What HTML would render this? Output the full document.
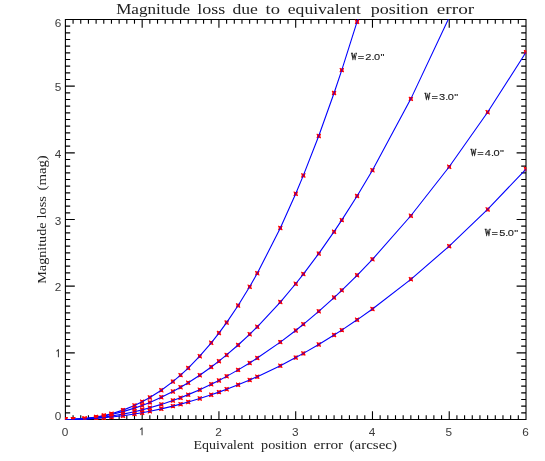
<!DOCTYPE html>
<html><head><meta charset="utf-8"><title>Magnitude loss</title>
<style>html,body{margin:0;padding:0;background:#fff;}svg{display:block;will-change:transform;}</style></head>
<body>
<svg width="545" height="461" viewBox="0 0 545 461">
<rect width="545" height="461" fill="#fff"/>
<path d="M65.4 19.5H526.0V419.5H65.4ZM65.40 419.5v-8.2M65.40 19.5v8.2M65.4 419.50h9.4M526.0 419.50h-9.4M73.08 419.5v-4.2M73.08 19.5v4.2M65.4 412.83h4.8M526.0 412.83h-4.8M80.75 419.5v-4.2M80.75 19.5v4.2M65.4 406.17h4.8M526.0 406.17h-4.8M88.43 419.5v-4.2M88.43 19.5v4.2M65.4 399.50h4.8M526.0 399.50h-4.8M96.11 419.5v-4.2M96.11 19.5v4.2M65.4 392.83h4.8M526.0 392.83h-4.8M103.78 419.5v-4.2M103.78 19.5v4.2M65.4 386.17h4.8M526.0 386.17h-4.8M111.46 419.5v-4.2M111.46 19.5v4.2M65.4 379.50h4.8M526.0 379.50h-4.8M119.14 419.5v-4.2M119.14 19.5v4.2M65.4 372.83h4.8M526.0 372.83h-4.8M126.81 419.5v-4.2M126.81 19.5v4.2M65.4 366.17h4.8M526.0 366.17h-4.8M134.49 419.5v-4.2M134.49 19.5v4.2M65.4 359.50h4.8M526.0 359.50h-4.8M142.17 419.5v-8.2M142.17 19.5v8.2M65.4 352.83h9.4M526.0 352.83h-9.4M149.84 419.5v-4.2M149.84 19.5v4.2M65.4 346.17h4.8M526.0 346.17h-4.8M157.52 419.5v-4.2M157.52 19.5v4.2M65.4 339.50h4.8M526.0 339.50h-4.8M165.20 419.5v-4.2M165.20 19.5v4.2M65.4 332.83h4.8M526.0 332.83h-4.8M172.87 419.5v-4.2M172.87 19.5v4.2M65.4 326.17h4.8M526.0 326.17h-4.8M180.55 419.5v-4.2M180.55 19.5v4.2M65.4 319.50h4.8M526.0 319.50h-4.8M188.23 419.5v-4.2M188.23 19.5v4.2M65.4 312.83h4.8M526.0 312.83h-4.8M195.90 419.5v-4.2M195.90 19.5v4.2M65.4 306.17h4.8M526.0 306.17h-4.8M203.58 419.5v-4.2M203.58 19.5v4.2M65.4 299.50h4.8M526.0 299.50h-4.8M211.26 419.5v-4.2M211.26 19.5v4.2M65.4 292.83h4.8M526.0 292.83h-4.8M218.93 419.5v-8.2M218.93 19.5v8.2M65.4 286.17h9.4M526.0 286.17h-9.4M226.61 419.5v-4.2M226.61 19.5v4.2M65.4 279.50h4.8M526.0 279.50h-4.8M234.29 419.5v-4.2M234.29 19.5v4.2M65.4 272.83h4.8M526.0 272.83h-4.8M241.96 419.5v-4.2M241.96 19.5v4.2M65.4 266.17h4.8M526.0 266.17h-4.8M249.64 419.5v-4.2M249.64 19.5v4.2M65.4 259.50h4.8M526.0 259.50h-4.8M257.32 419.5v-4.2M257.32 19.5v4.2M65.4 252.83h4.8M526.0 252.83h-4.8M264.99 419.5v-4.2M264.99 19.5v4.2M65.4 246.17h4.8M526.0 246.17h-4.8M272.67 419.5v-4.2M272.67 19.5v4.2M65.4 239.50h4.8M526.0 239.50h-4.8M280.35 419.5v-4.2M280.35 19.5v4.2M65.4 232.83h4.8M526.0 232.83h-4.8M288.02 419.5v-4.2M288.02 19.5v4.2M65.4 226.17h4.8M526.0 226.17h-4.8M295.70 419.5v-8.2M295.70 19.5v8.2M65.4 219.50h9.4M526.0 219.50h-9.4M303.38 419.5v-4.2M303.38 19.5v4.2M65.4 212.83h4.8M526.0 212.83h-4.8M311.05 419.5v-4.2M311.05 19.5v4.2M65.4 206.17h4.8M526.0 206.17h-4.8M318.73 419.5v-4.2M318.73 19.5v4.2M65.4 199.50h4.8M526.0 199.50h-4.8M326.41 419.5v-4.2M326.41 19.5v4.2M65.4 192.83h4.8M526.0 192.83h-4.8M334.08 419.5v-4.2M334.08 19.5v4.2M65.4 186.17h4.8M526.0 186.17h-4.8M341.76 419.5v-4.2M341.76 19.5v4.2M65.4 179.50h4.8M526.0 179.50h-4.8M349.44 419.5v-4.2M349.44 19.5v4.2M65.4 172.83h4.8M526.0 172.83h-4.8M357.11 419.5v-4.2M357.11 19.5v4.2M65.4 166.17h4.8M526.0 166.17h-4.8M364.79 419.5v-4.2M364.79 19.5v4.2M65.4 159.50h4.8M526.0 159.50h-4.8M372.47 419.5v-8.2M372.47 19.5v8.2M65.4 152.83h9.4M526.0 152.83h-9.4M380.14 419.5v-4.2M380.14 19.5v4.2M65.4 146.17h4.8M526.0 146.17h-4.8M387.82 419.5v-4.2M387.82 19.5v4.2M65.4 139.50h4.8M526.0 139.50h-4.8M395.50 419.5v-4.2M395.50 19.5v4.2M65.4 132.83h4.8M526.0 132.83h-4.8M403.17 419.5v-4.2M403.17 19.5v4.2M65.4 126.17h4.8M526.0 126.17h-4.8M410.85 419.5v-4.2M410.85 19.5v4.2M65.4 119.50h4.8M526.0 119.50h-4.8M418.53 419.5v-4.2M418.53 19.5v4.2M65.4 112.83h4.8M526.0 112.83h-4.8M426.20 419.5v-4.2M426.20 19.5v4.2M65.4 106.17h4.8M526.0 106.17h-4.8M433.88 419.5v-4.2M433.88 19.5v4.2M65.4 99.50h4.8M526.0 99.50h-4.8M441.56 419.5v-4.2M441.56 19.5v4.2M65.4 92.83h4.8M526.0 92.83h-4.8M449.23 419.5v-8.2M449.23 19.5v8.2M65.4 86.17h9.4M526.0 86.17h-9.4M456.91 419.5v-4.2M456.91 19.5v4.2M65.4 79.50h4.8M526.0 79.50h-4.8M464.59 419.5v-4.2M464.59 19.5v4.2M65.4 72.83h4.8M526.0 72.83h-4.8M472.26 419.5v-4.2M472.26 19.5v4.2M65.4 66.17h4.8M526.0 66.17h-4.8M479.94 419.5v-4.2M479.94 19.5v4.2M65.4 59.50h4.8M526.0 59.50h-4.8M487.62 419.5v-4.2M487.62 19.5v4.2M65.4 52.83h4.8M526.0 52.83h-4.8M495.29 419.5v-4.2M495.29 19.5v4.2M65.4 46.17h4.8M526.0 46.17h-4.8M502.97 419.5v-4.2M502.97 19.5v4.2M65.4 39.50h4.8M526.0 39.50h-4.8M510.65 419.5v-4.2M510.65 19.5v4.2M65.4 32.83h4.8M526.0 32.83h-4.8M518.32 419.5v-4.2M518.32 19.5v4.2M65.4 26.17h4.8M526.0 26.17h-4.8M526.00 419.5v-8.2M526.00 19.5v8.2M65.4 19.50h9.4M526.0 19.50h-9.4" fill="none" stroke="#000" stroke-width="1.1"/>
<clipPath id="c"><rect x="65.10000000000001" y="19.2" width="461.1" height="400.8"/></clipPath>
<g clip-path="url(#c)">
<path d="M63.75 417.75h3.3v3.5h-3.3zM71.43 417.61h3.3v3.5h-3.3zM82.94 416.84h3.3v3.5h-3.3zM94.46 415.32h3.3v3.5h-3.3zM102.13 413.85h3.3v3.5h-3.3zM109.81 411.97h3.3v3.5h-3.3zM121.33 408.37h3.3v3.5h-3.3zM132.84 403.73h3.3v3.5h-3.3zM140.52 400.03h3.3v3.5h-3.3zM148.19 395.81h3.3v3.5h-3.3zM159.71 388.48h3.3v3.5h-3.3zM171.22 379.87h3.3v3.5h-3.3zM178.90 373.39h3.3v3.5h-3.3zM186.58 366.29h3.3v3.5h-3.3zM198.09 354.43h3.3v3.5h-3.3zM209.61 341.08h3.3v3.5h-3.3zM217.28 331.32h3.3v3.5h-3.3zM224.96 320.85h3.3v3.5h-3.3zM236.48 303.77h3.3v3.5h-3.3zM247.99 285.01h3.3v3.5h-3.3zM255.67 271.53h3.3v3.5h-3.3zM278.70 226.32h3.3v3.5h-3.3zM294.05 192.06h3.3v3.5h-3.3zM301.73 173.65h3.3v3.5h-3.3zM317.08 134.22h3.3v3.5h-3.3zM332.43 91.24h3.3v3.5h-3.3zM340.11 68.38h3.3v3.5h-3.3zM355.46 19.92h3.3v3.5h-3.3z" fill="#ff0000"/>
<path d="M63.40 417.40l4.0 4.2M63.40 421.60l4.0 -4.2M71.08 417.26l4.0 4.2M71.08 421.46l4.0 -4.2M82.59 416.49l4.0 4.2M82.59 420.69l4.0 -4.2M94.11 414.97l4.0 4.2M94.11 419.17l4.0 -4.2M101.78 413.50l4.0 4.2M101.78 417.70l4.0 -4.2M109.46 411.62l4.0 4.2M109.46 415.82l4.0 -4.2M120.98 408.02l4.0 4.2M120.98 412.22l4.0 -4.2M132.49 403.38l4.0 4.2M132.49 407.58l4.0 -4.2M140.17 399.68l4.0 4.2M140.17 403.88l4.0 -4.2M147.84 395.46l4.0 4.2M147.84 399.66l4.0 -4.2M159.36 388.13l4.0 4.2M159.36 392.33l4.0 -4.2M170.87 379.52l4.0 4.2M170.87 383.72l4.0 -4.2M178.55 373.04l4.0 4.2M178.55 377.24l4.0 -4.2M186.23 365.94l4.0 4.2M186.23 370.14l4.0 -4.2M197.74 354.08l4.0 4.2M197.74 358.28l4.0 -4.2M209.26 340.73l4.0 4.2M209.26 344.93l4.0 -4.2M216.93 330.97l4.0 4.2M216.93 335.17l4.0 -4.2M224.61 320.50l4.0 4.2M224.61 324.70l4.0 -4.2M236.13 303.42l4.0 4.2M236.13 307.62l4.0 -4.2M247.64 284.66l4.0 4.2M247.64 288.86l4.0 -4.2M255.32 271.18l4.0 4.2M255.32 275.38l4.0 -4.2M278.35 225.97l4.0 4.2M278.35 230.17l4.0 -4.2M293.70 191.71l4.0 4.2M293.70 195.91l4.0 -4.2M301.38 173.30l4.0 4.2M301.38 177.50l4.0 -4.2M316.73 133.87l4.0 4.2M316.73 138.07l4.0 -4.2M332.08 90.89l4.0 4.2M332.08 95.09l4.0 -4.2M339.76 68.03l4.0 4.2M339.76 72.23l4.0 -4.2M355.11 19.57l4.0 4.2M355.11 23.77l4.0 -4.2" fill="none" stroke="#ff0000" stroke-width="1.1"/>
<polyline points="65.40,419.50 73.08,419.36 84.59,418.59 96.11,417.07 103.78,415.60 111.46,413.72 122.98,410.12 134.49,405.48 142.17,401.78 149.84,397.56 161.36,390.23 172.87,381.62 180.55,375.14 188.23,368.04 199.74,356.18 211.26,342.83 218.93,333.07 226.61,322.60 238.13,305.52 249.64,286.76 257.32,273.28 280.35,228.07 295.70,193.81 303.38,175.40 318.73,135.97 334.08,92.99 341.76,70.13 357.11,21.67 372.47,-30.53" fill="none" stroke="#0000ff" stroke-width="1.1"/>
<path d="M63.75 417.75h3.3v3.5h-3.3zM71.43 417.61h3.3v3.5h-3.3zM82.94 416.84h3.3v3.5h-3.3zM94.46 415.32h3.3v3.5h-3.3zM102.13 413.85h3.3v3.5h-3.3zM109.81 411.97h3.3v3.5h-3.3zM121.33 408.37h3.3v3.5h-3.3zM132.84 403.73h3.3v3.5h-3.3zM140.52 400.03h3.3v3.5h-3.3zM148.19 395.81h3.3v3.5h-3.3zM159.71 388.48h3.3v3.5h-3.3zM171.22 379.87h3.3v3.5h-3.3zM178.90 373.39h3.3v3.5h-3.3zM186.58 366.29h3.3v3.5h-3.3zM198.09 354.43h3.3v3.5h-3.3zM209.61 341.08h3.3v3.5h-3.3zM217.28 331.32h3.3v3.5h-3.3zM224.96 320.85h3.3v3.5h-3.3zM236.48 303.77h3.3v3.5h-3.3zM247.99 285.01h3.3v3.5h-3.3zM255.67 271.53h3.3v3.5h-3.3zM278.70 226.32h3.3v3.5h-3.3zM294.05 192.06h3.3v3.5h-3.3zM301.73 173.65h3.3v3.5h-3.3zM317.08 134.22h3.3v3.5h-3.3zM332.43 91.24h3.3v3.5h-3.3zM340.11 68.38h3.3v3.5h-3.3zM355.46 19.92h3.3v3.5h-3.3z" fill="#ff0000" fill-opacity="0.3"/>
<path d="M63.75 417.75h3.3v3.5h-3.3zM71.43 417.61h3.3v3.5h-3.3zM82.94 416.89h3.3v3.5h-3.3zM94.46 415.54h3.3v3.5h-3.3zM102.13 414.29h3.3v3.5h-3.3zM109.81 412.75h3.3v3.5h-3.3zM121.33 409.89h3.3v3.5h-3.3zM132.84 406.37h3.3v3.5h-3.3zM140.52 403.66h3.3v3.5h-3.3zM148.19 400.64h3.3v3.5h-3.3zM159.71 395.54h3.3v3.5h-3.3zM171.22 389.74h3.3v3.5h-3.3zM178.90 385.48h3.3v3.5h-3.3zM186.58 380.91h3.3v3.5h-3.3zM198.09 373.45h3.3v3.5h-3.3zM209.61 365.27h3.3v3.5h-3.3zM217.28 359.40h3.3v3.5h-3.3zM224.96 353.20h3.3v3.5h-3.3zM236.48 343.27h3.3v3.5h-3.3zM247.99 332.58h3.3v3.5h-3.3zM255.67 325.03h3.3v3.5h-3.3zM278.70 300.27h3.3v3.5h-3.3zM294.05 281.99h3.3v3.5h-3.3zM301.73 272.31h3.3v3.5h-3.3zM317.08 251.86h3.3v3.5h-3.3zM332.43 229.92h3.3v3.5h-3.3zM340.11 218.38h3.3v3.5h-3.3zM355.46 194.17h3.3v3.5h-3.3zM370.82 168.42h3.3v3.5h-3.3zM409.20 97.11h3.3v3.5h-3.3z" fill="#ff0000"/>
<path d="M63.40 417.40l4.0 4.2M63.40 421.60l4.0 -4.2M71.08 417.26l4.0 4.2M71.08 421.46l4.0 -4.2M82.59 416.54l4.0 4.2M82.59 420.74l4.0 -4.2M94.11 415.19l4.0 4.2M94.11 419.39l4.0 -4.2M101.78 413.94l4.0 4.2M101.78 418.14l4.0 -4.2M109.46 412.40l4.0 4.2M109.46 416.60l4.0 -4.2M120.98 409.54l4.0 4.2M120.98 413.74l4.0 -4.2M132.49 406.02l4.0 4.2M132.49 410.22l4.0 -4.2M140.17 403.31l4.0 4.2M140.17 407.51l4.0 -4.2M147.84 400.29l4.0 4.2M147.84 404.49l4.0 -4.2M159.36 395.19l4.0 4.2M159.36 399.39l4.0 -4.2M170.87 389.39l4.0 4.2M170.87 393.59l4.0 -4.2M178.55 385.13l4.0 4.2M178.55 389.33l4.0 -4.2M186.23 380.56l4.0 4.2M186.23 384.76l4.0 -4.2M197.74 373.10l4.0 4.2M197.74 377.30l4.0 -4.2M209.26 364.92l4.0 4.2M209.26 369.12l4.0 -4.2M216.93 359.05l4.0 4.2M216.93 363.25l4.0 -4.2M224.61 352.85l4.0 4.2M224.61 357.05l4.0 -4.2M236.13 342.92l4.0 4.2M236.13 347.12l4.0 -4.2M247.64 332.23l4.0 4.2M247.64 336.43l4.0 -4.2M255.32 324.68l4.0 4.2M255.32 328.88l4.0 -4.2M278.35 299.92l4.0 4.2M278.35 304.12l4.0 -4.2M293.70 281.64l4.0 4.2M293.70 285.84l4.0 -4.2M301.38 271.96l4.0 4.2M301.38 276.16l4.0 -4.2M316.73 251.51l4.0 4.2M316.73 255.71l4.0 -4.2M332.08 229.57l4.0 4.2M332.08 233.77l4.0 -4.2M339.76 218.03l4.0 4.2M339.76 222.23l4.0 -4.2M355.11 193.82l4.0 4.2M355.11 198.02l4.0 -4.2M370.47 168.07l4.0 4.2M370.47 172.27l4.0 -4.2M408.85 96.76l4.0 4.2M408.85 100.96l4.0 -4.2" fill="none" stroke="#ff0000" stroke-width="1.1"/>
<polyline points="65.40,419.50 73.08,419.36 84.59,418.64 96.11,417.29 103.78,416.04 111.46,414.50 122.98,411.64 134.49,408.12 142.17,405.41 149.84,402.39 161.36,397.29 172.87,391.49 180.55,387.23 188.23,382.66 199.74,375.20 211.26,367.02 218.93,361.15 226.61,354.95 238.13,345.02 249.64,334.33 257.32,326.78 280.35,302.02 295.70,283.74 303.38,274.06 318.73,253.61 334.08,231.67 341.76,220.13 357.11,195.92 372.47,170.17 410.85,98.86 449.23,17.36" fill="none" stroke="#0000ff" stroke-width="1.1"/>
<path d="M63.75 417.75h3.3v3.5h-3.3zM71.43 417.61h3.3v3.5h-3.3zM82.94 416.89h3.3v3.5h-3.3zM94.46 415.54h3.3v3.5h-3.3zM102.13 414.29h3.3v3.5h-3.3zM109.81 412.75h3.3v3.5h-3.3zM121.33 409.89h3.3v3.5h-3.3zM132.84 406.37h3.3v3.5h-3.3zM140.52 403.66h3.3v3.5h-3.3zM148.19 400.64h3.3v3.5h-3.3zM159.71 395.54h3.3v3.5h-3.3zM171.22 389.74h3.3v3.5h-3.3zM178.90 385.48h3.3v3.5h-3.3zM186.58 380.91h3.3v3.5h-3.3zM198.09 373.45h3.3v3.5h-3.3zM209.61 365.27h3.3v3.5h-3.3zM217.28 359.40h3.3v3.5h-3.3zM224.96 353.20h3.3v3.5h-3.3zM236.48 343.27h3.3v3.5h-3.3zM247.99 332.58h3.3v3.5h-3.3zM255.67 325.03h3.3v3.5h-3.3zM278.70 300.27h3.3v3.5h-3.3zM294.05 281.99h3.3v3.5h-3.3zM301.73 272.31h3.3v3.5h-3.3zM317.08 251.86h3.3v3.5h-3.3zM332.43 229.92h3.3v3.5h-3.3zM340.11 218.38h3.3v3.5h-3.3zM355.46 194.17h3.3v3.5h-3.3zM370.82 168.42h3.3v3.5h-3.3zM409.20 97.11h3.3v3.5h-3.3z" fill="#ff0000" fill-opacity="0.3"/>
<path d="M63.75 417.75h3.3v3.5h-3.3zM71.43 417.66h3.3v3.5h-3.3zM82.94 417.16h3.3v3.5h-3.3zM94.46 416.22h3.3v3.5h-3.3zM102.13 415.36h3.3v3.5h-3.3zM109.81 414.30h3.3v3.5h-3.3zM121.33 412.35h3.3v3.5h-3.3zM132.84 409.96h3.3v3.5h-3.3zM140.52 408.12h3.3v3.5h-3.3zM148.19 406.08h3.3v3.5h-3.3zM159.71 402.65h3.3v3.5h-3.3zM171.22 398.76h3.3v3.5h-3.3zM178.90 395.92h3.3v3.5h-3.3zM186.58 392.88h3.3v3.5h-3.3zM198.09 387.94h3.3v3.5h-3.3zM209.61 382.54h3.3v3.5h-3.3zM217.28 378.68h3.3v3.5h-3.3zM224.96 374.62h3.3v3.5h-3.3zM236.48 368.14h3.3v3.5h-3.3zM247.99 361.19h3.3v3.5h-3.3zM255.67 356.30h3.3v3.5h-3.3zM278.70 340.37h3.3v3.5h-3.3zM294.05 328.70h3.3v3.5h-3.3zM301.73 322.55h3.3v3.5h-3.3zM317.08 309.62h3.3v3.5h-3.3zM332.43 295.83h3.3v3.5h-3.3zM340.11 288.62h3.3v3.5h-3.3zM355.46 273.55h3.3v3.5h-3.3zM370.82 257.62h3.3v3.5h-3.3zM409.20 214.02h3.3v3.5h-3.3zM447.58 164.99h3.3v3.5h-3.3zM485.97 110.50h3.3v3.5h-3.3zM524.35 50.53h3.3v3.5h-3.3z" fill="#ff0000"/>
<path d="M63.40 417.40l4.0 4.2M63.40 421.60l4.0 -4.2M71.08 417.31l4.0 4.2M71.08 421.51l4.0 -4.2M82.59 416.81l4.0 4.2M82.59 421.01l4.0 -4.2M94.11 415.87l4.0 4.2M94.11 420.07l4.0 -4.2M101.78 415.01l4.0 4.2M101.78 419.21l4.0 -4.2M109.46 413.95l4.0 4.2M109.46 418.15l4.0 -4.2M120.98 412.00l4.0 4.2M120.98 416.20l4.0 -4.2M132.49 409.61l4.0 4.2M132.49 413.81l4.0 -4.2M140.17 407.77l4.0 4.2M140.17 411.97l4.0 -4.2M147.84 405.73l4.0 4.2M147.84 409.93l4.0 -4.2M159.36 402.30l4.0 4.2M159.36 406.50l4.0 -4.2M170.87 398.41l4.0 4.2M170.87 402.61l4.0 -4.2M178.55 395.57l4.0 4.2M178.55 399.77l4.0 -4.2M186.23 392.53l4.0 4.2M186.23 396.73l4.0 -4.2M197.74 387.59l4.0 4.2M197.74 391.79l4.0 -4.2M209.26 382.19l4.0 4.2M209.26 386.39l4.0 -4.2M216.93 378.33l4.0 4.2M216.93 382.53l4.0 -4.2M224.61 374.27l4.0 4.2M224.61 378.47l4.0 -4.2M236.13 367.79l4.0 4.2M236.13 371.99l4.0 -4.2M247.64 360.84l4.0 4.2M247.64 365.04l4.0 -4.2M255.32 355.95l4.0 4.2M255.32 360.15l4.0 -4.2M278.35 340.02l4.0 4.2M278.35 344.22l4.0 -4.2M293.70 328.35l4.0 4.2M293.70 332.55l4.0 -4.2M301.38 322.20l4.0 4.2M301.38 326.40l4.0 -4.2M316.73 309.27l4.0 4.2M316.73 313.47l4.0 -4.2M332.08 295.48l4.0 4.2M332.08 299.68l4.0 -4.2M339.76 288.27l4.0 4.2M339.76 292.47l4.0 -4.2M355.11 273.20l4.0 4.2M355.11 277.40l4.0 -4.2M370.47 257.27l4.0 4.2M370.47 261.47l4.0 -4.2M408.85 213.67l4.0 4.2M408.85 217.87l4.0 -4.2M447.23 164.64l4.0 4.2M447.23 168.84l4.0 -4.2M485.62 110.15l4.0 4.2M485.62 114.35l4.0 -4.2M524.00 50.18l4.0 4.2M524.00 54.38l4.0 -4.2" fill="none" stroke="#ff0000" stroke-width="1.1"/>
<polyline points="65.40,419.50 73.08,419.41 84.59,418.91 96.11,417.97 103.78,417.11 111.46,416.05 122.98,414.10 134.49,411.71 142.17,409.87 149.84,407.83 161.36,404.40 172.87,400.51 180.55,397.67 188.23,394.63 199.74,389.69 211.26,384.29 218.93,380.43 226.61,376.37 238.13,369.89 249.64,362.94 257.32,358.05 280.35,342.12 295.70,330.45 303.38,324.30 318.73,311.37 334.08,297.58 341.76,290.37 357.11,275.30 372.47,259.37 410.85,215.77 449.23,166.74 487.62,112.25 526.00,52.28" fill="none" stroke="#0000ff" stroke-width="1.1"/>
<path d="M63.75 417.75h3.3v3.5h-3.3zM71.43 417.66h3.3v3.5h-3.3zM82.94 417.16h3.3v3.5h-3.3zM94.46 416.22h3.3v3.5h-3.3zM102.13 415.36h3.3v3.5h-3.3zM109.81 414.30h3.3v3.5h-3.3zM121.33 412.35h3.3v3.5h-3.3zM132.84 409.96h3.3v3.5h-3.3zM140.52 408.12h3.3v3.5h-3.3zM148.19 406.08h3.3v3.5h-3.3zM159.71 402.65h3.3v3.5h-3.3zM171.22 398.76h3.3v3.5h-3.3zM178.90 395.92h3.3v3.5h-3.3zM186.58 392.88h3.3v3.5h-3.3zM198.09 387.94h3.3v3.5h-3.3zM209.61 382.54h3.3v3.5h-3.3zM217.28 378.68h3.3v3.5h-3.3zM224.96 374.62h3.3v3.5h-3.3zM236.48 368.14h3.3v3.5h-3.3zM247.99 361.19h3.3v3.5h-3.3zM255.67 356.30h3.3v3.5h-3.3zM278.70 340.37h3.3v3.5h-3.3zM294.05 328.70h3.3v3.5h-3.3zM301.73 322.55h3.3v3.5h-3.3zM317.08 309.62h3.3v3.5h-3.3zM332.43 295.83h3.3v3.5h-3.3zM340.11 288.62h3.3v3.5h-3.3zM355.46 273.55h3.3v3.5h-3.3zM370.82 257.62h3.3v3.5h-3.3zM409.20 214.02h3.3v3.5h-3.3zM447.58 164.99h3.3v3.5h-3.3zM485.97 110.50h3.3v3.5h-3.3zM524.35 50.53h3.3v3.5h-3.3z" fill="#ff0000" fill-opacity="0.3"/>
<path d="M63.75 417.75h3.3v3.5h-3.3zM71.43 417.68h3.3v3.5h-3.3zM82.94 417.33h3.3v3.5h-3.3zM94.46 416.67h3.3v3.5h-3.3zM102.13 416.06h3.3v3.5h-3.3zM109.81 415.31h3.3v3.5h-3.3zM121.33 413.93h3.3v3.5h-3.3zM132.84 412.24h3.3v3.5h-3.3zM140.52 410.95h3.3v3.5h-3.3zM148.19 409.52h3.3v3.5h-3.3zM159.71 407.11h3.3v3.5h-3.3zM171.22 404.39h3.3v3.5h-3.3zM178.90 402.40h3.3v3.5h-3.3zM186.58 400.28h3.3v3.5h-3.3zM198.09 396.83h3.3v3.5h-3.3zM209.61 393.07h3.3v3.5h-3.3zM217.28 390.38h3.3v3.5h-3.3zM224.96 387.56h3.3v3.5h-3.3zM236.48 383.07h3.3v3.5h-3.3zM247.99 378.26h3.3v3.5h-3.3zM255.67 374.88h3.3v3.5h-3.3zM278.70 363.89h3.3v3.5h-3.3zM294.05 355.86h3.3v3.5h-3.3zM301.73 351.63h3.3v3.5h-3.3zM317.08 342.75h3.3v3.5h-3.3zM332.43 333.31h3.3v3.5h-3.3zM340.11 328.38h3.3v3.5h-3.3zM355.46 318.08h3.3v3.5h-3.3zM370.82 307.22h3.3v3.5h-3.3zM409.20 277.59h3.3v3.5h-3.3zM447.58 244.40h3.3v3.5h-3.3zM485.97 207.65h3.3v3.5h-3.3zM524.35 167.34h3.3v3.5h-3.3z" fill="#ff0000"/>
<path d="M63.40 417.40l4.0 4.2M63.40 421.60l4.0 -4.2M71.08 417.33l4.0 4.2M71.08 421.53l4.0 -4.2M82.59 416.98l4.0 4.2M82.59 421.18l4.0 -4.2M94.11 416.32l4.0 4.2M94.11 420.52l4.0 -4.2M101.78 415.71l4.0 4.2M101.78 419.91l4.0 -4.2M109.46 414.96l4.0 4.2M109.46 419.16l4.0 -4.2M120.98 413.58l4.0 4.2M120.98 417.78l4.0 -4.2M132.49 411.89l4.0 4.2M132.49 416.09l4.0 -4.2M140.17 410.60l4.0 4.2M140.17 414.80l4.0 -4.2M147.84 409.17l4.0 4.2M147.84 413.37l4.0 -4.2M159.36 406.76l4.0 4.2M159.36 410.96l4.0 -4.2M170.87 404.04l4.0 4.2M170.87 408.24l4.0 -4.2M178.55 402.05l4.0 4.2M178.55 406.25l4.0 -4.2M186.23 399.93l4.0 4.2M186.23 404.13l4.0 -4.2M197.74 396.48l4.0 4.2M197.74 400.68l4.0 -4.2M209.26 392.72l4.0 4.2M209.26 396.92l4.0 -4.2M216.93 390.03l4.0 4.2M216.93 394.23l4.0 -4.2M224.61 387.21l4.0 4.2M224.61 391.41l4.0 -4.2M236.13 382.72l4.0 4.2M236.13 386.92l4.0 -4.2M247.64 377.91l4.0 4.2M247.64 382.11l4.0 -4.2M255.32 374.53l4.0 4.2M255.32 378.73l4.0 -4.2M278.35 363.54l4.0 4.2M278.35 367.74l4.0 -4.2M293.70 355.51l4.0 4.2M293.70 359.71l4.0 -4.2M301.38 351.28l4.0 4.2M301.38 355.48l4.0 -4.2M316.73 342.40l4.0 4.2M316.73 346.60l4.0 -4.2M332.08 332.96l4.0 4.2M332.08 337.16l4.0 -4.2M339.76 328.03l4.0 4.2M339.76 332.23l4.0 -4.2M355.11 317.73l4.0 4.2M355.11 321.93l4.0 -4.2M370.47 306.87l4.0 4.2M370.47 311.07l4.0 -4.2M408.85 277.24l4.0 4.2M408.85 281.44l4.0 -4.2M447.23 244.05l4.0 4.2M447.23 248.25l4.0 -4.2M485.62 207.30l4.0 4.2M485.62 211.50l4.0 -4.2M524.00 166.99l4.0 4.2M524.00 171.19l4.0 -4.2" fill="none" stroke="#ff0000" stroke-width="1.1"/>
<polyline points="65.40,419.50 73.08,419.43 84.59,419.08 96.11,418.42 103.78,417.81 111.46,417.06 122.98,415.68 134.49,413.99 142.17,412.70 149.84,411.27 161.36,408.86 172.87,406.14 180.55,404.15 188.23,402.03 199.74,398.58 211.26,394.82 218.93,392.13 226.61,389.31 238.13,384.82 249.64,380.01 257.32,376.63 280.35,365.64 295.70,357.61 303.38,353.38 318.73,344.50 334.08,335.06 341.76,330.13 357.11,319.83 372.47,308.97 410.85,279.34 449.23,246.15 487.62,209.40 526.00,169.09" fill="none" stroke="#0000ff" stroke-width="1.1"/>
<path d="M63.75 417.75h3.3v3.5h-3.3zM71.43 417.68h3.3v3.5h-3.3zM82.94 417.33h3.3v3.5h-3.3zM94.46 416.67h3.3v3.5h-3.3zM102.13 416.06h3.3v3.5h-3.3zM109.81 415.31h3.3v3.5h-3.3zM121.33 413.93h3.3v3.5h-3.3zM132.84 412.24h3.3v3.5h-3.3zM140.52 410.95h3.3v3.5h-3.3zM148.19 409.52h3.3v3.5h-3.3zM159.71 407.11h3.3v3.5h-3.3zM171.22 404.39h3.3v3.5h-3.3zM178.90 402.40h3.3v3.5h-3.3zM186.58 400.28h3.3v3.5h-3.3zM198.09 396.83h3.3v3.5h-3.3zM209.61 393.07h3.3v3.5h-3.3zM217.28 390.38h3.3v3.5h-3.3zM224.96 387.56h3.3v3.5h-3.3zM236.48 383.07h3.3v3.5h-3.3zM247.99 378.26h3.3v3.5h-3.3zM255.67 374.88h3.3v3.5h-3.3zM278.70 363.89h3.3v3.5h-3.3zM294.05 355.86h3.3v3.5h-3.3zM301.73 351.63h3.3v3.5h-3.3zM317.08 342.75h3.3v3.5h-3.3zM332.43 333.31h3.3v3.5h-3.3zM340.11 328.38h3.3v3.5h-3.3zM355.46 318.08h3.3v3.5h-3.3zM370.82 307.22h3.3v3.5h-3.3zM409.20 277.59h3.3v3.5h-3.3zM447.58 244.40h3.3v3.5h-3.3zM485.97 207.65h3.3v3.5h-3.3zM524.35 167.34h3.3v3.5h-3.3z" fill="#ff0000" fill-opacity="0.3"/>
</g>
<g font-family="Liberation Sans, sans-serif" font-size="11.8" fill="#3a3a3a">
<text x="65.0" y="435.6" text-anchor="middle">0</text>
<path d="M140.17 429.60L142.07 427.90V435.20" fill="none" stroke="#3a3a3a" stroke-width="1.05" stroke-linejoin="round"/>
<text x="218.5" y="435.6" text-anchor="middle">2</text>
<text x="295.3" y="435.6" text-anchor="middle">3</text>
<text x="372.1" y="435.6" text-anchor="middle">4</text>
<text x="448.8" y="435.6" text-anchor="middle">5</text>
<text x="525.6" y="435.6" text-anchor="middle">6</text>
<text x="61.4" y="419.6" text-anchor="end">0</text>
<path d="M56.50 351.33L58.40 349.63V357.23" fill="none" stroke="#3a3a3a" stroke-width="1.05" stroke-linejoin="round"/>
<text x="61.4" y="291.2" text-anchor="end">2</text>
<text x="61.4" y="224.5" text-anchor="end">3</text>
<text x="61.4" y="157.8" text-anchor="end">4</text>
<text x="61.4" y="91.2" text-anchor="end">5</text>
<text x="61.4" y="27.4" text-anchor="end">6</text>
</g>
<g font-family="Liberation Serif, serif" fill="#222">
<text x="116.2" y="13.8" font-size="13.7" textLength="74.0" lengthAdjust="spacingAndGlyphs">Magnitude</text>
<text x="197.3" y="13.8" font-size="13.7" textLength="28.0" lengthAdjust="spacingAndGlyphs">loss</text>
<text x="232.5" y="13.8" font-size="13.7" textLength="25.4" lengthAdjust="spacingAndGlyphs">due</text>
<text x="265.6" y="13.8" font-size="13.7" textLength="14.4" lengthAdjust="spacingAndGlyphs">to</text>
<text x="287.8" y="13.8" font-size="13.7" textLength="73.2" lengthAdjust="spacingAndGlyphs">equivalent</text>
<text x="370.7" y="13.8" font-size="13.7" textLength="57.9" lengthAdjust="spacingAndGlyphs">position</text>
<text x="436.8" y="13.8" font-size="13.7" textLength="37.4" lengthAdjust="spacingAndGlyphs">error</text>
<text x="193.6" y="448.7" font-size="11.5" textLength="60.4" lengthAdjust="spacingAndGlyphs">Equivalent</text>
<text x="261.1" y="448.7" font-size="11.5" textLength="45.7" lengthAdjust="spacingAndGlyphs">position</text>
<text x="313.5" y="448.7" font-size="11.5" textLength="29.7" lengthAdjust="spacingAndGlyphs">error</text>
<text x="349.6" y="448.7" font-size="11.5" textLength="47.4" lengthAdjust="spacingAndGlyphs">(arcsec)</text>
<text transform="translate(46.2 283.7) rotate(-90)" font-size="11.5" textLength="61.2" lengthAdjust="spacingAndGlyphs">Magnitude</text>
<text transform="translate(46.2 218.5) rotate(-90)" font-size="11.5" textLength="22.3" lengthAdjust="spacingAndGlyphs">loss</text>
<text transform="translate(46.2 190.5) rotate(-90)" font-size="11.5" textLength="35.3" lengthAdjust="spacingAndGlyphs">(mag)</text>
</g>
<g transform="translate(351.2 59.9)" fill="#1a1a1a" stroke="#1a1a1a" stroke-width="0.12"><text x="-0.3" font-family="Liberation Serif, serif" font-weight="bold" font-size="10.3" stroke-width="0.4" textLength="5.9" lengthAdjust="spacingAndGlyphs">W</text><text transform="scale(1.15 1)" font-family="Liberation Sans, sans-serif" font-size="9.6" x="5.65 12.30 17.65 19.87 25.48">=2.0&quot;</text></g>
<g transform="translate(424.9 99.9)" fill="#1a1a1a" stroke="#1a1a1a" stroke-width="0.12"><text x="-0.3" font-family="Liberation Serif, serif" font-weight="bold" font-size="10.3" stroke-width="0.4" textLength="5.9" lengthAdjust="spacingAndGlyphs">W</text><text transform="scale(1.15 1)" font-family="Liberation Sans, sans-serif" font-size="9.6" x="5.65 12.30 17.65 19.87 25.48">=3.0&quot;</text></g>
<g transform="translate(470.7 156.0)" fill="#1a1a1a" stroke="#1a1a1a" stroke-width="0.12"><text x="-0.3" font-family="Liberation Serif, serif" font-weight="bold" font-size="10.3" stroke-width="0.4" textLength="5.9" lengthAdjust="spacingAndGlyphs">W</text><text transform="scale(1.15 1)" font-family="Liberation Sans, sans-serif" font-size="9.6" x="5.65 12.30 17.65 19.87 25.48">=4.0&quot;</text></g>
<g transform="translate(485.0 235.9)" fill="#1a1a1a" stroke="#1a1a1a" stroke-width="0.12"><text x="-0.3" font-family="Liberation Serif, serif" font-weight="bold" font-size="10.3" stroke-width="0.4" textLength="5.9" lengthAdjust="spacingAndGlyphs">W</text><text transform="scale(1.15 1)" font-family="Liberation Sans, sans-serif" font-size="9.6" x="5.65 12.30 17.65 19.87 25.48">=5.0&quot;</text></g>
</svg>
</body></html>
